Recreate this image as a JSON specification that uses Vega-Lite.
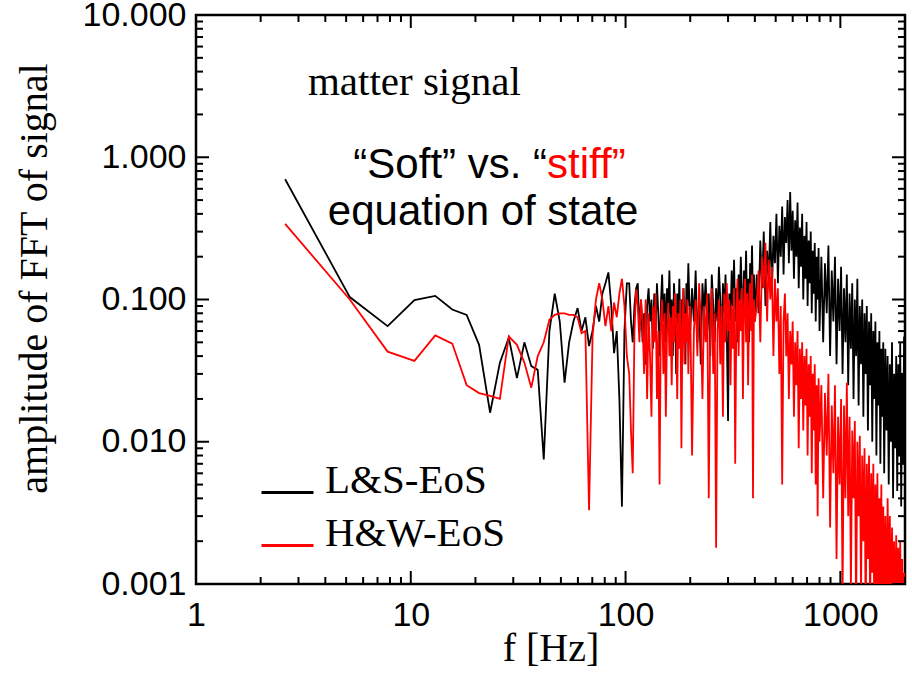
{
  "$schema": "https://vega.github.io/schema/vega-lite/v6.json",
  "width": 709,
  "height": 569,
  "autosize": {"type": "none"},
  "padding": {"left": 196, "top": 15, "right": 7, "bottom": 96},
  "background": "white",
  "config": {
    "view": {"stroke": "black", "strokeWidth": 2.5},
    "axis": {"grid": false, "domain": false, "ticks": false, "labelColor": "black", "titleColor": "black"}
  },
  "datasets": {
    "xt": [
      {"v": 1, "k": "major"}, {"v": 2, "k": "minor"}, {"v": 3, "k": "minor"}, {"v": 4, "k": "minor"}, {"v": 5, "k": "minor"},
      {"v": 6, "k": "minor"}, {"v": 7, "k": "minor"}, {"v": 8, "k": "minor"}, {"v": 9, "k": "minor"},
      {"v": 10, "k": "major"}, {"v": 20, "k": "minor"}, {"v": 30, "k": "minor"}, {"v": 40, "k": "minor"}, {"v": 50, "k": "minor"},
      {"v": 60, "k": "minor"}, {"v": 70, "k": "minor"}, {"v": 80, "k": "minor"}, {"v": 90, "k": "minor"},
      {"v": 100, "k": "major"}, {"v": 200, "k": "minor"}, {"v": 300, "k": "minor"}, {"v": 400, "k": "minor"}, {"v": 500, "k": "minor"},
      {"v": 600, "k": "minor"}, {"v": 700, "k": "minor"}, {"v": 800, "k": "minor"}, {"v": 900, "k": "minor"},
      {"v": 1000, "k": "major"}, {"v": 2000, "k": "minor"}
    ],
    "yt": [
      {"v": 0.001, "k": "major"}, {"v": 0.002, "k": "minor"}, {"v": 0.003, "k": "minor"}, {"v": 0.004, "k": "minor"}, {"v": 0.005, "k": "minor"},
      {"v": 0.006, "k": "minor"}, {"v": 0.007, "k": "minor"}, {"v": 0.008, "k": "minor"}, {"v": 0.009, "k": "minor"},
      {"v": 0.01, "k": "major"}, {"v": 0.02, "k": "minor"}, {"v": 0.03, "k": "minor"}, {"v": 0.04, "k": "minor"}, {"v": 0.05, "k": "minor"},
      {"v": 0.06, "k": "minor"}, {"v": 0.07, "k": "minor"}, {"v": 0.08, "k": "minor"}, {"v": 0.09, "k": "minor"},
      {"v": 0.1, "k": "major"}, {"v": 0.2, "k": "minor"}, {"v": 0.3, "k": "minor"}, {"v": 0.4, "k": "minor"}, {"v": 0.5, "k": "minor"},
      {"v": 0.6, "k": "minor"}, {"v": 0.7, "k": "minor"}, {"v": 0.8, "k": "minor"}, {"v": 0.9, "k": "minor"},
      {"v": 1, "k": "major"}, {"v": 2, "k": "minor"}, {"v": 3, "k": "minor"}, {"v": 4, "k": "minor"}, {"v": 5, "k": "minor"},
      {"v": 6, "k": "minor"}, {"v": 7, "k": "minor"}, {"v": 8, "k": "minor"}, {"v": 9, "k": "minor"},
      {"v": 10, "k": "major"}
    ],
    "fft": [
      {"f": 2.6, "L": 0.70, "H": 0.34},
      {"f": 5.2, "L": 0.104, "H": 0.100},
      {"f": 7.8, "L": 0.065, "H": 0.043},
      {"f": 10.4, "L": 0.099, "H": 0.037},
      {"f": 13, "L": 0.106, "H": 0.056},
      {"f": 15.6, "L": 0.085, "H": 0.049},
      {"f": 18.2, "L": 0.078, "H": 0.025},
      {"f": 20.8, "L": 0.048, "H": 0.022},
      {"f": 23.4, "L": 0.016, "H": 0.021},
      {"f": 26, "L": 0.036, "H": 0.020},
      {"f": 28.6, "L": 0.054, "H": 0.055},
      {"f": 31.2, "L": 0.028, "H": 0.048},
      {"f": 33.8, "L": 0.050, "H": 0.036},
      {"f": 36.4, "L": 0.034, "H": 0.024},
      {"f": 39, "L": 0.032, "H": 0.040},
      {"f": 41.6, "L": 0.0075, "H": 0.050},
      {"f": 44.2, "L": 0.060, "H": 0.072},
      {"f": 46.8, "L": 0.110, "H": 0.078},
      {"f": 49.4, "L": 0.070, "H": 0.080},
      {"f": 52, "L": 0.026, "H": 0.080},
      {"f": 54.6, "L": 0.050, "H": 0.078},
      {"f": 57.2, "L": 0.070, "H": 0.078},
      {"f": 59.8, "L": 0.087, "H": 0.075},
      {"f": 62.4, "L": 0.060, "H": 0.058},
      {"f": 65, "L": 0.075, "H": 0.060},
      {"f": 67.6, "L": 0.047, "H": 0.0033},
      {"f": 70.2, "L": 0.060, "H": 0.055},
      {"f": 72.8, "L": 0.090, "H": 0.100},
      {"f": 75.4, "L": 0.070, "H": 0.130},
      {"f": 78, "L": 0.110, "H": 0.100},
      {"f": 80.6, "L": 0.130, "H": 0.065},
      {"f": 83.2, "L": 0.155, "H": 0.090},
      {"f": 85.8, "L": 0.090, "H": 0.060},
      {"f": 88.4, "L": 0.042, "H": 0.095},
      {"f": 91, "L": 0.060, "H": 0.075},
      {"f": 93.6, "L": 0.020, "H": 0.110},
      {"f": 96.2, "L": 0.0035, "H": 0.140},
      {"f": 98.8, "L": 0.060, "H": 0.090},
      {"f": 101.4, "L": 0.130, "H": 0.040},
      {"f": 104, "L": 0.13, "H": 0.030},
      {"f": 106, "L": 0.07, "H": 0.012},
      {"f": 108, "L": 0.05, "H": 0.006},
      {"f": 110, "L": 0.09, "H": 0.060},
      {"f": 112, "L": 0.12, "H": 0.118},
      {"f": 114, "L": 0.13, "H": 0.090},
      {"f": 116, "L": 0.06, "H": 0.050},
      {"f": 118, "L": 0.10, "H": 0.100},
      {"f": 120, "L": 0.05, "H": 0.070},
      {"f": 122, "L": 0.08, "H": 0.030},
      {"f": 124, "L": 0.035, "H": 0.10},
      {"f": 126, "L": 0.09, "H": 0.020},
      {"f": 128, "L": 0.12, "H": 0.080},
      {"f": 130, "L": 0.07, "H": 0.040},
      {"f": 132, "L": 0.10, "H": 0.015},
      {"f": 134, "L": 0.045, "H": 0.09},
      {"f": 136, "L": 0.11, "H": 0.05},
      {"f": 138, "L": 0.06, "H": 0.11},
      {"f": 140, "L": 0.13, "H": 0.02},
      {"f": 142, "L": 0.08, "H": 0.06},
      {"f": 144, "L": 0.04, "H": 0.005},
      {"f": 146, "L": 0.09, "H": 0.07},
      {"f": 148, "L": 0.15, "H": 0.10},
      {"f": 150, "L": 0.07, "H": 0.03},
      {"f": 152, "L": 0.11, "H": 0.08},
      {"f": 154, "L": 0.05, "H": 0.015},
      {"f": 156, "L": 0.12, "H": 0.06},
      {"f": 158, "L": 0.08, "H": 0.095},
      {"f": 160, "L": 0.16, "H": 0.04},
      {"f": 162, "L": 0.06, "H": 0.075},
      {"f": 164, "L": 0.10, "H": 0.025},
      {"f": 166, "L": 0.04, "H": 0.09},
      {"f": 168, "L": 0.13, "H": 0.05},
      {"f": 170, "L": 0.09, "H": 0.11},
      {"f": 172, "L": 0.03, "H": 0.07},
      {"f": 174, "L": 0.11, "H": 0.02},
      {"f": 176, "L": 0.07, "H": 0.08},
      {"f": 178, "L": 0.14, "H": 0.045},
      {"f": 180, "L": 0.05, "H": 0.10},
      {"f": 182, "L": 0.10, "H": 0.009},
      {"f": 184, "L": 0.06, "H": 0.06},
      {"f": 186, "L": 0.12, "H": 0.12},
      {"f": 188, "L": 0.08, "H": 0.035},
      {"f": 190, "L": 0.035, "H": 0.08},
      {"f": 192, "L": 0.13, "H": 0.05},
      {"f": 194, "L": 0.09, "H": 0.10},
      {"f": 196, "L": 0.18, "H": 0.03},
      {"f": 198, "L": 0.10, "H": 0.07},
      {"f": 200, "L": 0.06, "H": 0.09},
      {"f": 204, "L": 0.12, "H": 0.008},
      {"f": 208, "L": 0.07, "H": 0.06},
      {"f": 212, "L": 0.16, "H": 0.10},
      {"f": 216, "L": 0.05, "H": 0.04},
      {"f": 220, "L": 0.10, "H": 0.13},
      {"f": 224, "L": 0.035, "H": 0.07},
      {"f": 228, "L": 0.13, "H": 0.02},
      {"f": 232, "L": 0.08, "H": 0.09},
      {"f": 236, "L": 0.14, "H": 0.05},
      {"f": 240, "L": 0.06, "H": 0.11},
      {"f": 244, "L": 0.11, "H": 0.004},
      {"f": 248, "L": 0.04, "H": 0.07},
      {"f": 252, "L": 0.15, "H": 0.12},
      {"f": 256, "L": 0.09, "H": 0.03},
      {"f": 260, "L": 0.05, "H": 0.08},
      {"f": 264, "L": 0.12, "H": 0.0018},
      {"f": 268, "L": 0.07, "H": 0.06},
      {"f": 272, "L": 0.17, "H": 0.10},
      {"f": 276, "L": 0.10, "H": 0.035},
      {"f": 280, "L": 0.045, "H": 0.09},
      {"f": 284, "L": 0.13, "H": 0.015},
      {"f": 288, "L": 0.08, "H": 0.11},
      {"f": 292, "L": 0.15, "H": 0.05},
      {"f": 296, "L": 0.06, "H": 0.13},
      {"f": 300, "L": 0.014, "H": 0.06},
      {"f": 304, "L": 0.11, "H": 0.10},
      {"f": 308, "L": 0.07, "H": 0.025},
      {"f": 312, "L": 0.16, "H": 0.09},
      {"f": 316, "L": 0.09, "H": 0.045},
      {"f": 320, "L": 0.19, "H": 0.12},
      {"f": 324, "L": 0.07, "H": 0.007},
      {"f": 328, "L": 0.12, "H": 0.08},
      {"f": 332, "L": 0.05, "H": 0.14},
      {"f": 336, "L": 0.15, "H": 0.04},
      {"f": 340, "L": 0.09, "H": 0.10},
      {"f": 344, "L": 0.20, "H": 0.06},
      {"f": 348, "L": 0.11, "H": 0.12},
      {"f": 352, "L": 0.06, "H": 0.02},
      {"f": 356, "L": 0.16, "H": 0.09},
      {"f": 360, "L": 0.10, "H": 0.14},
      {"f": 364, "L": 0.22, "H": 0.05},
      {"f": 368, "L": 0.08, "H": 0.11},
      {"f": 372, "L": 0.14, "H": 0.025},
      {"f": 376, "L": 0.05, "H": 0.09},
      {"f": 380, "L": 0.18, "H": 0.13},
      {"f": 384, "L": 0.11, "H": 0.06},
      {"f": 388, "L": 0.24, "H": 0.15},
      {"f": 392, "L": 0.09, "H": 0.004},
      {"f": 396, "L": 0.15, "H": 0.10},
      {"f": 400, "L": 0.07, "H": 0.07},
      {"f": 408, "L": 0.15, "H": 0.09},
      {"f": 416, "L": 0.08, "H": 0.16},
      {"f": 424, "L": 0.26, "H": 0.05},
      {"f": 432, "L": 0.12, "H": 0.20},
      {"f": 440, "L": 0.30, "H": 0.12},
      {"f": 448, "L": 0.09, "H": 0.25},
      {"f": 456, "L": 0.22, "H": 0.07},
      {"f": 464, "L": 0.14, "H": 0.19},
      {"f": 472, "L": 0.35, "H": 0.10},
      {"f": 480, "L": 0.11, "H": 0.17},
      {"f": 488, "L": 0.28, "H": 0.04},
      {"f": 496, "L": 0.18, "H": 0.14},
      {"f": 504, "L": 0.40, "H": 0.07},
      {"f": 512, "L": 0.13, "H": 0.12},
      {"f": 520, "L": 0.33, "H": 0.03},
      {"f": 528, "L": 0.20, "H": 0.09},
      {"f": 536, "L": 0.45, "H": 0.005},
      {"f": 544, "L": 0.15, "H": 0.07},
      {"f": 552, "L": 0.38, "H": 0.11},
      {"f": 560, "L": 0.25, "H": 0.04},
      {"f": 568, "L": 0.50, "H": 0.08},
      {"f": 576, "L": 0.18, "H": 0.02},
      {"f": 584, "L": 0.57, "H": 0.06},
      {"f": 592, "L": 0.22, "H": 0.035},
      {"f": 600, "L": 0.42, "H": 0.07},
      {"f": 608, "L": 0.14, "H": 0.015},
      {"f": 616, "L": 0.36, "H": 0.05},
      {"f": 624, "L": 0.20, "H": 0.025},
      {"f": 632, "L": 0.48, "H": 0.06},
      {"f": 640, "L": 0.12, "H": 0.009},
      {"f": 648, "L": 0.32, "H": 0.045},
      {"f": 656, "L": 0.17, "H": 0.02},
      {"f": 664, "L": 0.40, "H": 0.05},
      {"f": 672, "L": 0.10, "H": 0.012},
      {"f": 680, "L": 0.28, "H": 0.04},
      {"f": 688, "L": 0.14, "H": 0.018},
      {"f": 696, "L": 0.35, "H": 0.045},
      {"f": 704, "L": 0.09, "H": 0.008},
      {"f": 712, "L": 0.26, "H": 0.035},
      {"f": 720, "L": 0.13, "H": 0.015},
      {"f": 728, "L": 0.30, "H": 0.04},
      {"f": 736, "L": 0.08, "H": 0.006},
      {"f": 744, "L": 0.22, "H": 0.03},
      {"f": 752, "L": 0.11, "H": 0.012},
      {"f": 760, "L": 0.25, "H": 0.035},
      {"f": 768, "L": 0.07, "H": 0.005},
      {"f": 776, "L": 0.20, "H": 0.025},
      {"f": 784, "L": 0.10, "H": 0.003},
      {"f": 792, "L": 0.23, "H": 0.028},
      {"f": 800, "L": 0.06, "H": 0.010},
      {"f": 816, "L": 0.20, "H": 0.025},
      {"f": 832, "L": 0.05, "H": 0.004},
      {"f": 848, "L": 0.18, "H": 0.022},
      {"f": 864, "L": 0.08, "H": 0.008},
      {"f": 880, "L": 0.24, "H": 0.03},
      {"f": 896, "L": 0.04, "H": 0.0025},
      {"f": 912, "L": 0.16, "H": 0.018},
      {"f": 928, "L": 0.07, "H": 0.006},
      {"f": 944, "L": 0.20, "H": 0.025},
      {"f": 960, "L": 0.035, "H": 0.0015},
      {"f": 976, "L": 0.14, "H": 0.015},
      {"f": 992, "L": 0.06, "H": 0.005},
      {"f": 1008, "L": 0.17, "H": 0.02},
      {"f": 1024, "L": 0.03, "H": 0.0008},
      {"f": 1040, "L": 0.12, "H": 0.018},
      {"f": 1056, "L": 0.05, "H": 0.004},
      {"f": 1072, "L": 0.15, "H": 0.026},
      {"f": 1088, "L": 0.025, "H": 0.003},
      {"f": 1104, "L": 0.11, "H": 0.015},
      {"f": 1120, "L": 0.045, "H": 0.0009},
      {"f": 1136, "L": 0.13, "H": 0.012},
      {"f": 1152, "L": 0.02, "H": 0.004},
      {"f": 1168, "L": 0.10, "H": 0.014},
      {"f": 1184, "L": 0.04, "H": 0.0006},
      {"f": 1200, "L": 0.14, "H": 0.010},
      {"f": 1216, "L": 0.018, "H": 0.003},
      {"f": 1232, "L": 0.09, "H": 0.011},
      {"f": 1248, "L": 0.035, "H": 0.0008},
      {"f": 1264, "L": 0.10, "H": 0.008},
      {"f": 1280, "L": 0.015, "H": 0.002},
      {"f": 1296, "L": 0.08, "H": 0.009},
      {"f": 1312, "L": 0.03, "H": 0.0005},
      {"f": 1328, "L": 0.09, "H": 0.007},
      {"f": 1344, "L": 0.012, "H": 0.0015},
      {"f": 1360, "L": 0.07, "H": 0.008},
      {"f": 1376, "L": 0.025, "H": 0.0006},
      {"f": 1392, "L": 0.08, "H": 0.006},
      {"f": 1408, "L": 0.01, "H": 0.0012},
      {"f": 1424, "L": 0.06, "H": 0.007},
      {"f": 1440, "L": 0.02, "H": 0.0004},
      {"f": 1456, "L": 0.07, "H": 0.005},
      {"f": 1472, "L": 0.008, "H": 0.001},
      {"f": 1488, "L": 0.05, "H": 0.006},
      {"f": 1504, "L": 0.018, "H": 0.0005},
      {"f": 1520, "L": 0.06, "H": 0.004},
      {"f": 1536, "L": 0.007, "H": 0.0008},
      {"f": 1552, "L": 0.045, "H": 0.005},
      {"f": 1568, "L": 0.015, "H": 0.0004},
      {"f": 1584, "L": 0.05, "H": 0.0035},
      {"f": 1600, "L": 0.006, "H": 0.0007},
      {"f": 1620, "L": 0.045, "H": 0.003},
      {"f": 1640, "L": 0.012, "H": 0.0006},
      {"f": 1660, "L": 0.04, "H": 0.004},
      {"f": 1680, "L": 0.005, "H": 0.0008},
      {"f": 1700, "L": 0.035, "H": 0.003},
      {"f": 1720, "L": 0.01, "H": 0.0005},
      {"f": 1740, "L": 0.05, "H": 0.0025},
      {"f": 1760, "L": 0.004, "H": 0.0007},
      {"f": 1780, "L": 0.03, "H": 0.002},
      {"f": 1800, "L": 0.009, "H": 0.0004},
      {"f": 1820, "L": 0.04, "H": 0.0022},
      {"f": 1840, "L": 0.0045, "H": 0.0006},
      {"f": 1860, "L": 0.035, "H": 0.0018},
      {"f": 1880, "L": 0.008, "H": 0.0004},
      {"f": 1900, "L": 0.05, "H": 0.002},
      {"f": 1920, "L": 0.0035, "H": 0.0005},
      {"f": 1940, "L": 0.03, "H": 0.0015},
      {"f": 1960, "L": 0.007, "H": 0.0004},
      {"f": 1980, "L": 0.055, "H": 0.0012},
      {"f": 2000, "L": 0.005, "H": 0.0005}
    ]
  },
  "layer": [
    {
      "data": {"name": "fft"},
      "mark": {"type": "line", "strokeWidth": 1.8, "clip": true},
      "encoding": {
        "x": {
          "field": "f", "type": "quantitative",
          "scale": {"type": "log", "domain": [1, 2000], "nice": false},
          "axis": {
            "orient": "bottom",
            "values": [1, 10, 100, 1000],
            "format": "d",
            "labelFont": "Liberation Sans", "labelFontSize": 34, "labelPadding": 14,
            "labelOverlap": false, "labelFlush": false,
            "title": "f [Hz]", "titleFont": "Liberation Serif", "titleFontSize": 40, "titleFontWeight": "normal", "titlePadding": -4
          }
        },
        "y": {
          "field": "L", "type": "quantitative",
          "scale": {"type": "log", "domain": [0.001, 10], "nice": false},
          "axis": {
            "orient": "left",
            "values": [0.001, 0.01, 0.1, 1, 10],
            "format": ".3f",
            "labelFont": "Liberation Sans", "labelFontSize": 34, "labelPadding": 10,
            "labelOverlap": false, "labelFlush": false,
            "title": "amplitude of FFT of signal", "titleFont": "Liberation Serif", "titleFontSize": 40, "titleFontWeight": "normal",
            "titleX": -142, "titleY": 263
          }
        },
        "color": {
          "datum": "L&S-EoS", "type": "nominal",
          "scale": {"domain": ["L&S-EoS", "H&W-EoS"], "range": ["black", "red"]},
          "legend": {
            "orient": "none", "legendX": 64, "legendY": 450, "title": null,
            "symbolType": "stroke", "symbolSize": 2704, "symbolStrokeWidth": 3,
            "labelFont": "Liberation Serif", "labelFontSize": 41, "labelColor": "black",
            "labelBaseline": "alphabetic", "labelOffset": 10, "rowPadding": 11, "padding": 0, "labelLimit": 400
          }
        }
      }
    },
    {
      "data": {"name": "fft"},
      "mark": {"type": "line", "strokeWidth": 1.8, "clip": true},
      "encoding": {
        "x": {"field": "f", "type": "quantitative"},
        "y": {"field": "H", "type": "quantitative"},
        "color": {"datum": "H&W-EoS", "type": "nominal"}
      }
    },
    {
      "data": {"name": "xt"},
      "mark": {"type": "tick", "orient": "vertical", "thickness": 2, "color": "black", "opacity": 1, "clip": true},
      "encoding": {
        "x": {"field": "v", "type": "quantitative"},
        "y": {"datum": 0.001, "type": "quantitative"},
        "size": {"field": "k", "type": "ordinal", "scale": {"domain": ["major", "minor"], "range": [26, 14]}, "legend": null}
      }
    },
    {
      "data": {"name": "xt"},
      "mark": {"type": "tick", "orient": "vertical", "thickness": 2, "color": "black", "opacity": 1, "clip": true},
      "encoding": {
        "x": {"field": "v", "type": "quantitative"},
        "y": {"datum": 10, "type": "quantitative"},
        "size": {"field": "k", "type": "ordinal", "legend": null}
      }
    },
    {
      "data": {"name": "yt"},
      "mark": {"type": "tick", "orient": "horizontal", "thickness": 2, "color": "black", "opacity": 1, "clip": true},
      "encoding": {
        "y": {"field": "v", "type": "quantitative"},
        "x": {"datum": 1, "type": "quantitative"},
        "size": {"field": "k", "type": "ordinal", "legend": null}
      }
    },
    {
      "data": {"name": "yt"},
      "mark": {"type": "tick", "orient": "horizontal", "thickness": 2, "color": "black", "opacity": 1, "clip": true},
      "encoding": {
        "y": {"field": "v", "type": "quantitative"},
        "x": {"datum": 2000, "type": "quantitative"},
        "size": {"field": "k", "type": "ordinal", "legend": null}
      }
    },
    {
      "data": {"values": [{"f": 3.32, "a": 2.74, "t": "matter signal"}]},
      "mark": {"type": "text", "align": "left", "baseline": "alphabetic", "font": "Liberation Serif", "fontSize": 41, "color": "black"},
      "encoding": {
        "x": {"field": "f", "type": "quantitative"},
        "y": {"field": "a", "type": "quantitative"},
        "text": {"field": "t"}
      }
    },
    {
      "data": {"values": [{"f": 43.1, "a": 0.715, "t": "“Soft” vs. “"}]},
      "mark": {"type": "text", "align": "right", "baseline": "alphabetic", "font": "Liberation Sans", "fontSize": 42, "color": "black"},
      "encoding": {
        "x": {"field": "f", "type": "quantitative"},
        "y": {"field": "a", "type": "quantitative"},
        "text": {"field": "t"}
      }
    },
    {
      "data": {"values": [{"f": 43.1, "a": 0.715, "t": "stiff”"}]},
      "mark": {"type": "text", "align": "left", "baseline": "alphabetic", "font": "Liberation Sans", "fontSize": 42, "color": "#ff0000"},
      "encoding": {
        "x": {"field": "f", "type": "quantitative"},
        "y": {"field": "a", "type": "quantitative"},
        "text": {"field": "t"}
      }
    },
    {
      "data": {"values": [{"f": 4.11, "a": 0.334, "t": "equation of state"}]},
      "mark": {"type": "text", "align": "left", "baseline": "alphabetic", "font": "Liberation Sans", "fontSize": 42, "color": "black"},
      "encoding": {
        "x": {"field": "f", "type": "quantitative"},
        "y": {"field": "a", "type": "quantitative"},
        "text": {"field": "t"}
      }
    }
  ]
}
